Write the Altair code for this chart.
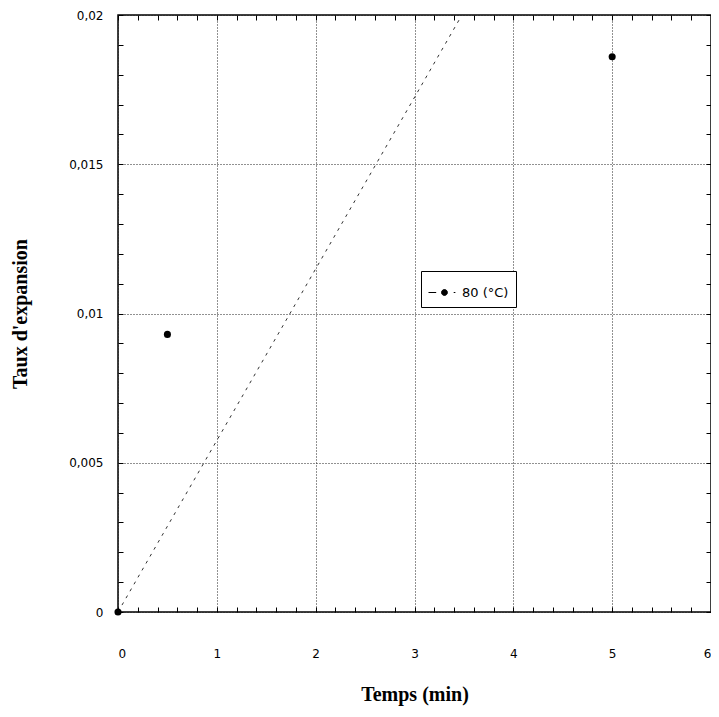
import altair as alt
import pandas as pd

# Data
temps = [0, 0.5, 5]
taux = [0, 0.0093, 0.0186]
serie = ["80 (°C)", "80 (°C)", "80 (°C)"]

fit_temps = [0, 3.48]
fit_taux = [0, 0.02]

x_major = [0, 1, 2, 3, 4, 5, 6]
y_major = [0, 0.005, 0.01, 0.015, 0.02]
x_minor = [0, 0.2, 0.4, 0.6, 0.8, 1, 1.2, 1.4, 1.6, 1.8, 2, 2.2, 2.4, 2.6, 2.8, 3,
           3.2, 3.4, 3.6, 3.8, 4, 4.2, 4.4, 4.6, 4.8, 5, 5.2, 5.4, 5.6, 5.8, 6]
y_minor = [0, 0.001, 0.002, 0.003, 0.004, 0.005, 0.006, 0.007, 0.008, 0.009, 0.01,
           0.011, 0.012, 0.013, 0.014, 0.015, 0.016, 0.017, 0.018, 0.019, 0.02]

pts = pd.DataFrame({"temps": temps, "taux": taux, "serie": serie})
fit = pd.DataFrame({"temps": fit_temps, "taux": fit_taux})

xs = alt.Scale(domain=[0, 6], nice=False, zero=False)
ys = alt.Scale(domain=[0, 0.02], nice=False, zero=False)

LABEL_FONT = "DejaVu Sans"
TITLE_FONT = "Liberation Serif"

x_main = alt.Axis(values=x_major, grid=True, gridDash=[1, 2], gridColor="#222", gridWidth=1,
                  ticks=False, tickSize=0, domain=False, labelPadding=36,
                  labelFont=LABEL_FONT, labelFontSize=12, labelColor="black",
                  title="Temps (min)", titleFont=TITLE_FONT, titleFontSize=20,
                  titleFontWeight="bold", titleColor="black", titlePadding=25)
y_main = alt.Axis(values=y_major, grid=True, gridDash=[1, 2], gridColor="#222", gridWidth=1,
                  ticks=False, tickSize=0, domain=False, labelPadding=15,
                  labelExpr="replace(format(datum.value, '.3~f'), '.', ',')",
                  labelFont=LABEL_FONT, labelFontSize=12, labelColor="black",
                  title="Taux d'expansion", titleFont=TITLE_FONT, titleFontSize=20,
                  titleFontWeight="bold", titleColor="black", titlePadding=38)


def tick_axis(orient, values):
    return alt.Axis(orient=orient, values=values, labels=False, ticks=True, tickSize=5,
                    tickColor="black", tickWidth=1, domain=False, grid=False,
                    offset=-5, title=None)


line = alt.Chart(fit).mark_line(color="#333", strokeDash=[3, 5], strokeWidth=1, clip=True).encode(
    x=alt.X("temps:Q", scale=xs, axis=x_main),
    y=alt.Y("taux:Q", scale=ys, axis=y_main),
)

symbol_path = ("M-1,0L-0.45,0"
               "M-0.07,0A0.21,0.21,0,1,1,0.35,0A0.21,0.21,0,1,1,-0.07,0Z"
               "M0.8,0L0.92,0")

points = alt.Chart(pts).mark_point(filled=True, size=50, opacity=1).encode(
    x=alt.X("temps:Q", scale=xs, axis=tick_axis("bottom", x_minor)),
    y=alt.Y("taux:Q", scale=ys, axis=tick_axis("left", y_minor)),
    color=alt.Color("serie:N", scale=alt.Scale(range=["black"]),
                    legend=alt.Legend(title=None, orient="none", legendX=303, legendY=256,
                                      symbolType=symbol_path, symbolSize=784,
                                      symbolStrokeWidth=1, symbolStrokeColor="black",
                                      symbolFillColor="black",
                                      labelFont=LABEL_FONT, labelFontSize=13,
                                      labelColor="black", labelOffset=5, padding=7,
                                      strokeColor="black", fillColor="white")),
)

# invisible layer carrying the top/right inward ticks
ghost = alt.Chart(pts).mark_point(opacity=0).encode(
    x=alt.X("temps:Q", scale=xs, axis=tick_axis("top", x_minor)),
    y=alt.Y("taux:Q", scale=ys, axis=tick_axis("right", y_minor)),
)

chart = alt.layer(line, points, ghost).resolve_axis(
    x="independent", y="independent"
).properties(
    width=593, height=597,
    autosize=alt.AutoSizeParams(type="none"),
    padding={"left": 110, "top": 7, "right": 0, "bottom": 95},
).configure_view(stroke="black", strokeWidth=1.5)

chart.save("out.html", embed_options={"renderer": "svg", "actions": False})
